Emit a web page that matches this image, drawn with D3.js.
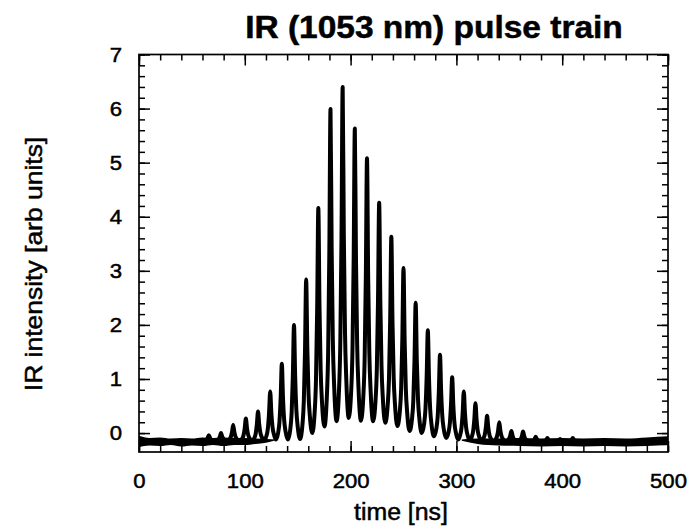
<!DOCTYPE html>
<html lang="en">
<head>
<meta charset="utf-8">
<style type="text/css">
body { margin: 0; background: #fff; }
text { font-family: "Liberation Sans", Arial, sans-serif; fill: #000; stroke: #000; stroke-width: 0.5px; }
.trace { fill: none; stroke: #000; stroke-width: 4px; stroke-linejoin: round; }
.band { fill: #000; stroke: none; }
.frame { fill: none; stroke: #000; stroke-width: 1.7px; }
.axis line { stroke: #000; stroke-width: 1.5px; }
.axis path { display: none; }
.axis text { font-size: 20.5px; }
</style>
</head>
<body>
<svg width="691" height="531"></svg>
<script src="https://d3js.org/d3.v7.min.js"></script>
<script type="text/javascript">
// pulse peaks (time in ns, intensity in arb units)
var peakTimes  = [66, 77.5, 89, 101, 112.5, 124, 135, 146.5, 158, 169.5, 181, 192.5, 204, 215.5, 227,
                  238.5, 250, 261.5, 273, 284.5, 296, 307, 318, 329, 340.5, 352, 363, 375, 386, 398, 410];
var peakValues = [-0.04, 0.0, 0.15, 0.27, 0.40, 0.77, 1.28, 2.0, 2.84, 4.16, 5.99, 6.40, 5.63, 5.08, 4.26,
                  3.63, 3.05, 2.41, 1.90, 1.45, 1.03, 0.77, 0.55, 0.32, 0.20, 0.04, 0.03, -0.07, -0.09, -0.11, -0.09];
// valleys: before first pulse, between each pair, after last pulse
var valleyValues = [-0.15, -0.15, -0.14, -0.14, -0.14, -0.13, -0.12, -0.12, -0.11, 0.0, 0.12, 0.22, 0.28, 0.23, 0.22,
                    0.19, 0.13, 0.04, 0.0, -0.06, -0.09, -0.12, -0.13, -0.14, -0.15, -0.15, -0.16, -0.16, -0.17, -0.17, -0.17, -0.17];
// shape of one pulse around its peak (offset in ns, fraction of height above the valley)
var pulseOffsets   = [-3.5, -2.2, -1.1, 0, 1.1, 2.2, 3.5];
var pulseFractions = [0.09, 0.24, 0.55, 1, 0.55, 0.26, 0.11];
// flat baseline before and after the train
var leadTimes  = [0, 15, 30, 45, 55];
var leadValues = [-0.13, -0.16, -0.15, -0.17, -0.15];
var tailTimes  = [425, 440, 460, 480, 500];
var tailValues = [-0.17, -0.17, -0.16, -0.16, -0.13];
// noise envelope of the baseline
var bandPreTimes = [0, 10, 20, 30, 40, 50, 60, 70, 80, 90, 100, 110, 120, 130];
var bandPreHigh  = [-0.05, -0.09, -0.08, -0.10, -0.09, -0.10, -0.08, -0.09, -0.08, -0.09, -0.09, -0.10, -0.11, -0.12];
var bandPreLow   = [-0.26, -0.23, -0.24, -0.22, -0.25, -0.23, -0.24, -0.22, -0.24, -0.22, -0.22, -0.20, -0.18, -0.13];
var bandPostTimes = [305, 320, 340, 360, 380, 400, 420, 440, 460, 480, 500];
var bandPostHigh  = [-0.12, -0.10, -0.10, -0.09, -0.10, -0.09, -0.10, -0.09, -0.10, -0.08, -0.06];
var bandPostLow   = [-0.14, -0.20, -0.23, -0.24, -0.25, -0.24, -0.25, -0.24, -0.25, -0.24, -0.22];

var xTickLabels = [0, 100, 200, 300, 400, 500];
var yTickLabels = [0, 1, 2, 3, 4, 5, 6, 7];

var svg = d3.select("svg");
var x = d3.scaleLinear().domain([0, 500]).range([139, 668]);
var y = d3.scaleLinear().domain([-0.35, 7]).range([452, 54.5]);

// build the trace from the read values
var trace = [];
leadTimes.forEach(function (t, i) { trace.push([t, leadValues[i]]); });
peakTimes.forEach(function (t, i) {
    var left = i == 0 ? t - 5.75 : (peakTimes[i - 1] + t) / 2;
    trace.push([left, valleyValues[i]]);
    pulseOffsets.forEach(function (o, k) {
        var base = o < 0 ? valleyValues[i] : valleyValues[i + 1];
        trace.push([t + o, base + pulseFractions[k] * (peakValues[i] - base)]);
    });
});
var last = peakTimes.length - 1;
trace.push([peakTimes[last] + 5.75, valleyValues[last + 1]]);
tailTimes.forEach(function (t, i) { trace.push([t, tailValues[i]]); });

var band = d3.area()
    .x(function (d) { return x(d[0]); })
    .y0(function (d) { return y(d[1]); })
    .y1(function (d) { return y(d[2]); })
    .curve(d3.curveMonotoneX);

svg.append("path").attr("class", "band")
    .attr("d", band(bandPreTimes.map(function (t, i) { return [t, bandPreLow[i], bandPreHigh[i]]; })));
svg.append("path").attr("class", "band")
    .attr("d", band(bandPostTimes.map(function (t, i) { return [t, bandPostLow[i], bandPostHigh[i]]; })));

var line = d3.line()
    .x(function (d) { return x(d[0]); })
    .y(function (d) { return y(d[1]); })
    .curve(d3.curveMonotoneX);

svg.append("path").attr("class", "trace").attr("d", line(trace));

// axes: ticks point inward on all four sides
var H = 452, W = 668, L = 139, T = 54.5;
svg.append("g").attr("class", "axis").attr("transform", "translate(0," + H + ")")
    .call(d3.axisBottom(x).tickValues(x.ticks(25)).tickSize(-6).tickFormat(""));
svg.append("g").attr("class", "axis").attr("transform", "translate(0," + H + ")")
    .call(d3.axisBottom(x).tickValues(xTickLabels).tickSize(-11).tickPadding(21).tickFormat(d3.format("d")));
svg.append("g").attr("class", "axis").attr("transform", "translate(0," + T + ")")
    .call(d3.axisTop(x).tickValues(x.ticks(25)).tickSize(-6).tickFormat(""));
svg.append("g").attr("class", "axis").attr("transform", "translate(0," + T + ")")
    .call(d3.axisTop(x).tickValues(xTickLabels).tickSize(-11).tickFormat(""));
svg.append("g").attr("class", "axis").attr("transform", "translate(" + L + ",0)")
    .call(d3.axisLeft(y).tickValues(y.ticks(37)).tickSize(-6).tickFormat(""));
svg.append("g").attr("class", "axis").attr("transform", "translate(" + L + ",0)")
    .call(d3.axisLeft(y).tickValues(yTickLabels).tickSize(-11).tickPadding(17).tickFormat(d3.format("d")));
svg.append("g").attr("class", "axis").attr("transform", "translate(" + W + ",0)")
    .call(d3.axisRight(y).tickValues(y.ticks(37)).tickSize(-6).tickFormat(""));
svg.append("g").attr("class", "axis").attr("transform", "translate(" + W + ",0)")
    .call(d3.axisRight(y).tickValues(yTickLabels).tickSize(-11).tickFormat(""));

svg.append("rect").attr("class", "frame")
    .attr("x", L).attr("y", T).attr("width", W - L).attr("height", H - T);

svg.append("text")
    .attr("x", 434).attr("y", 38)
    .attr("text-anchor", "middle")
    .style("font-size", "31px").style("font-weight", "bold")
    .text("IR (1053 nm) pulse train");

svg.append("text")
    .attr("x", 401).attr("y", 520)
    .attr("text-anchor", "middle")
    .style("font-size", "23px")
    .text("time [ns]");

svg.append("text")
    .attr("transform", "translate(42,264) rotate(-90)")
    .attr("text-anchor", "middle")
    .style("font-size", "24.5px")
    .text("IR intensity [arb units]");

// the original lettering is a bit wider than Liberation Sans
svg.selectAll("text").each(function () {
    var w = this.getComputedTextLength();
    if (w > 0) d3.select(this).attr("textLength", w * 1.08).attr("lengthAdjust", "spacingAndGlyphs");
});
</script>
</body>
</html>
